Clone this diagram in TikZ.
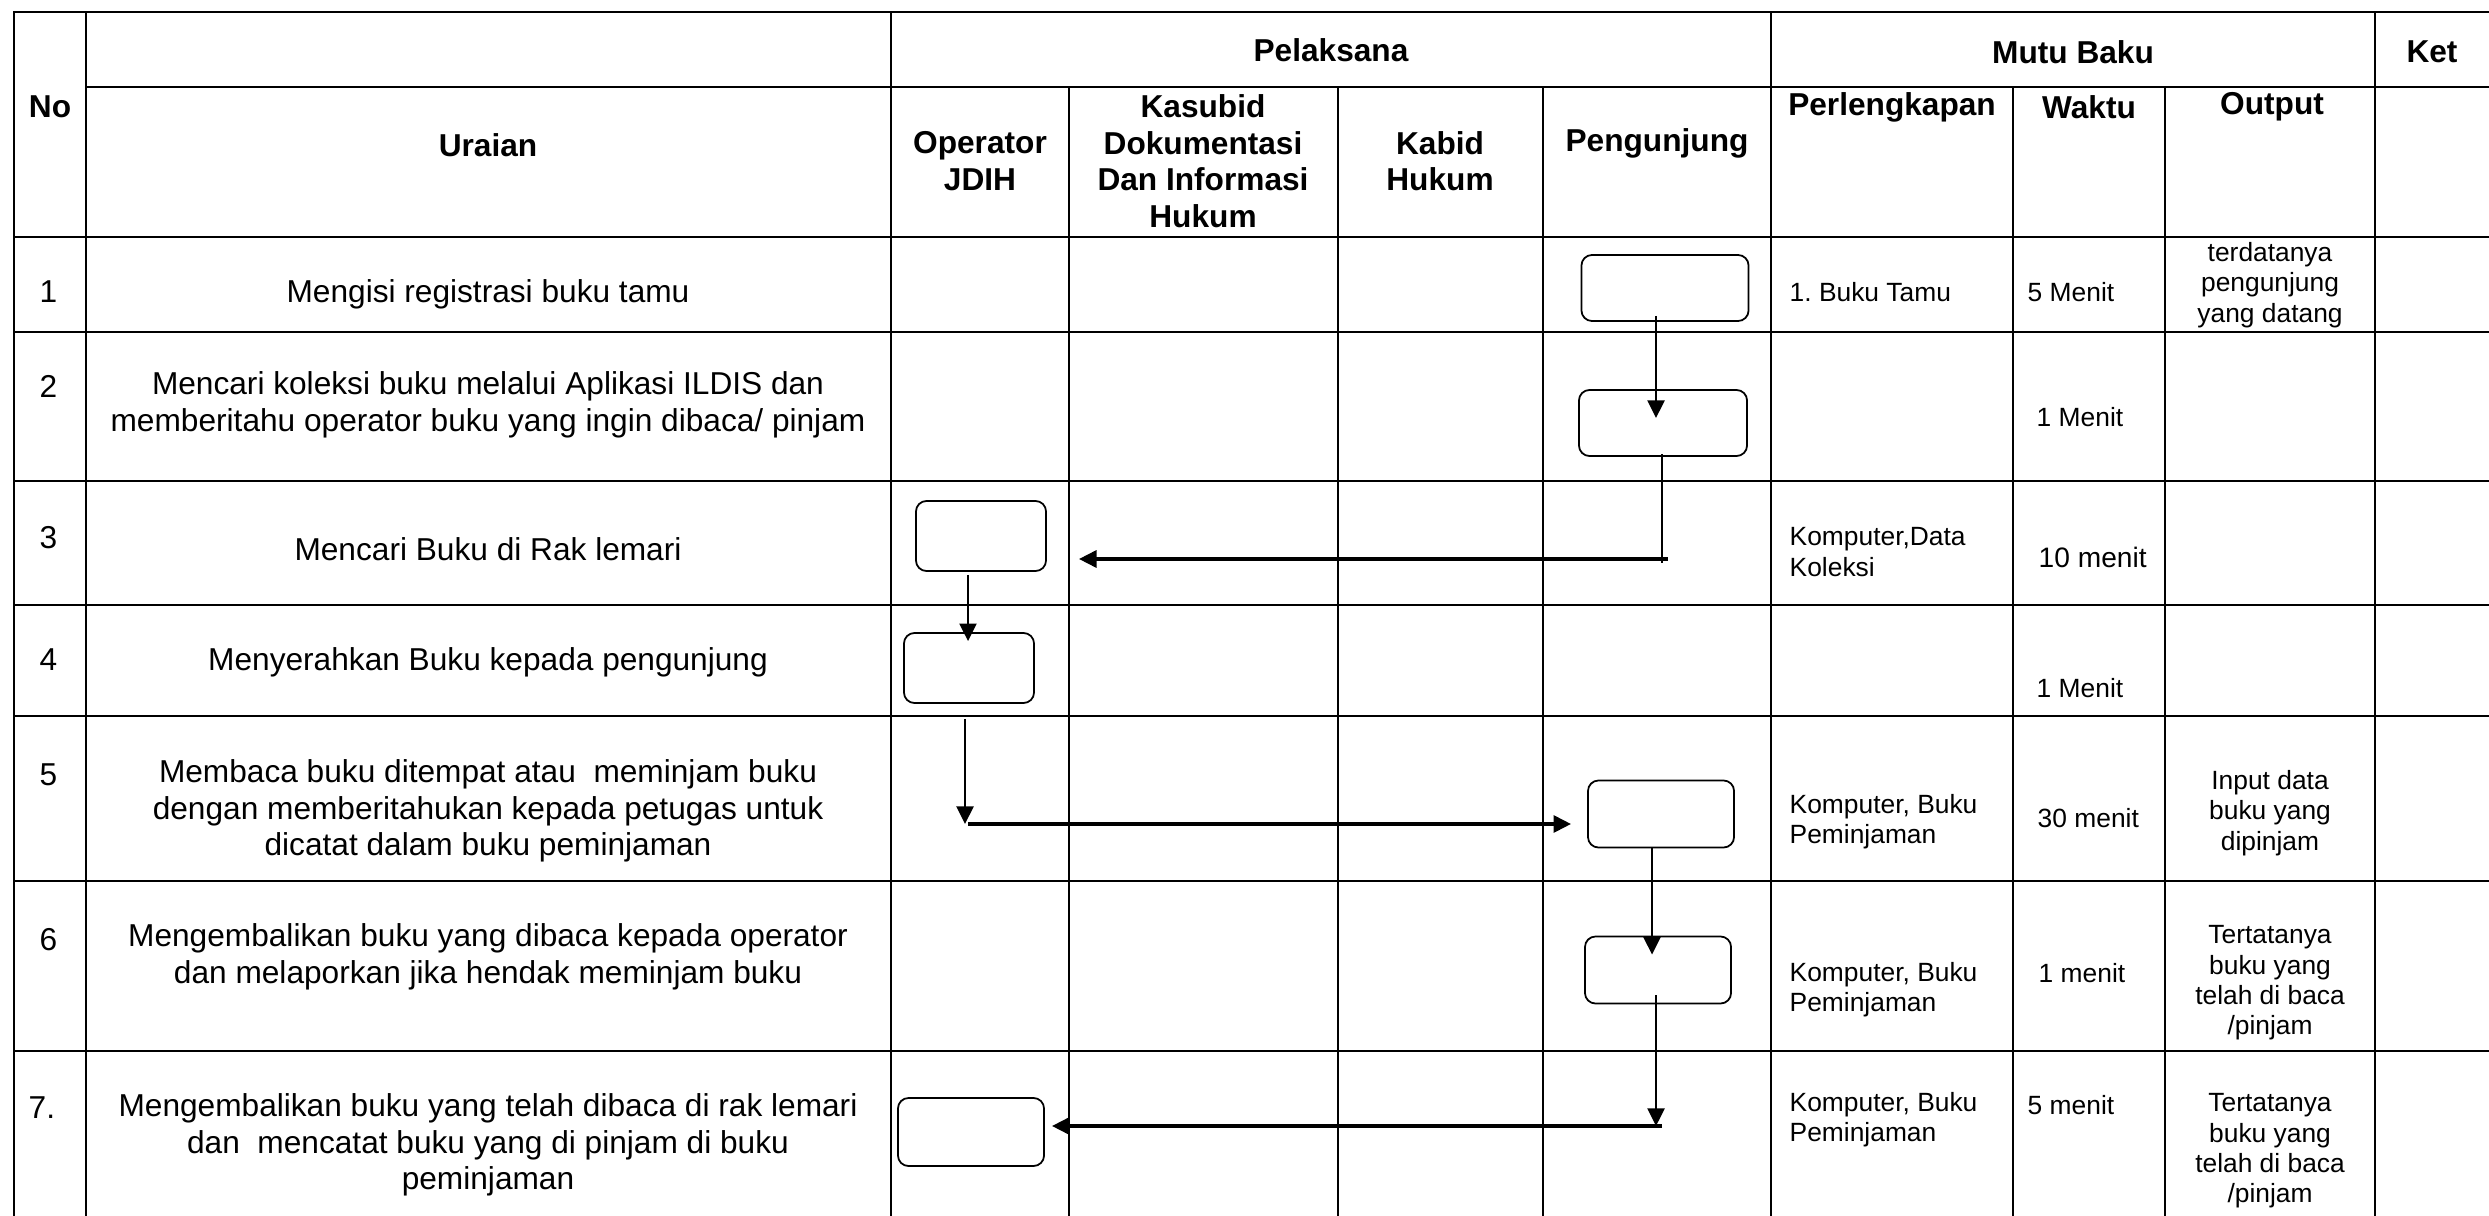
\documentclass[tikz,border=0pt]{standalone}
\usepackage{fontspec}
\setmainfont{Liberation Sans}
\usepackage{tikz}
\usetikzlibrary{arrows.meta,calc}
\frenchspacing

\begin{document}
\begin{tikzpicture}[x=0.01cm,
            y=-0.01cm,
            >={Triangle[length=5pt,width=4.8pt]},
            grid/.style={line width=0.6pt,line cap=rect},
            txt/.style={inner sep=0pt,align=center,font=\fontsize{9}{10.4}\selectfont},
            head/.style={txt,font=\fontsize{9}{10.4}\selectfont\bfseries},
            small/.style={inner sep=0pt,align=left,anchor=west,font=\fontsize{7.5}{8.6}\selectfont},
            smallc/.style={small,align=center,anchor=center},
            act/.style={draw,rounded corners=3pt,line width=0.5pt,minimum width=1.46cm,minimum height=0.67cm},
            flow/.style={->,line width=0.75pt},
            link/.style={line width=0.75pt},
            jump/.style={->,line width=1pt}]

        \useasboundingbox (0,0) rectangle (2489,1216);

        % table
        \foreach \y in {12,237,332,481,605,716,881,1051}
            \draw[grid] (14,\y) -- (2489,\y);
        \draw[grid] (86,87) -- (2489,87);
        \foreach \x in {14,86,891,1771,2375}
            \draw[grid] (\x,12) -- (\x,1216);
        \foreach \x in {1069,1338,1543,2013,2165}
            \draw[grid] (\x,87) -- (\x,1216);

        % header
        \node[head] (no)         at (50,107)   {No};
        \node[head] (uraian)     at (488,145)  {Uraian};
        \node[head] (pelaksana)  at (1331,50)  {Pelaksana};
        \node[head] (mutu)       at (2073,52)  {Mutu Baku};
        \node[head] (ket)        at (2432,52)  {Ket};
        \node[head] (operator)   at (980,161)  {Operator\\JDIH};
        \node[head] (kasubid)    at (1203,161) {Kasubid\\Dokumentasi\\Dan Informasi\\Hukum};
        \node[head] (kabid)      at (1440,161) {Kabid\\Hukum};
        \node[head] (pengunjung) at (1657,143) {Pengunjung};
        \node[head] (perl)       at (1892,107) {Perlengkapan};
        \node[head] (waktu)      at (2089,107) {Waktu};
        \node[head] (output)     at (2272,107) {Output};

        % nomor
        \node[txt,anchor=west] (n1) at (39,292)  {1};
        \node[txt,anchor=west] (n2) at (39,386)  {2};
        \node[txt,anchor=west] (n3) at (39,538)  {3};
        \node[txt,anchor=west] (n4) at (39,660)  {4};
        \node[txt,anchor=west] (n5) at (39,775)  {5};
        \node[txt,anchor=west] (n6) at (39,940)  {6};
        \node[txt,anchor=west] (n7) at (28,1108) {7.};

        % uraian
        \node[txt] (u1) at (488,294)  {Mengisi registrasi buku tamu};
        \node[txt] (u2) at (488,405)  {Mencari koleksi buku melalui Aplikasi ILDIS dan\\memberitahu operator buku yang ingin dibaca/ pinjam};
        \node[txt] (u3) at (488,549)  {Mencari Buku di Rak lemari};
        \node[txt] (u4) at (488,662)  {Menyerahkan Buku kepada pengunjung};
        \node[txt] (u5) at (488,811)  {Membaca buku ditempat atau~ meminjam buku\\dengan memberitahukan kepada petugas untuk\\dicatat dalam buku peminjaman};
        \node[txt] (u6) at (488,957)  {Mengembalikan buku yang dibaca kepada operator\\dan melaporkan jika hendak meminjam buku};
        \node[txt] (u7) at (488,1145) {Mengembalikan buku yang telah dibaca di rak lemari\\dan~ mencatat buku yang di pinjam di buku\\peminjaman};

        % perlengkapan
        \node[small] (p1) at (1789,292)  {1. Buku Tamu};
        \node[small] (p3) at (1789,552)  {Komputer,Data\\Koleksi};
        \node[small] (p5) at (1789,822)  {Komputer, Buku\\Peminjaman};
        \node[small] (p6) at (1789,990)  {Komputer, Buku\\Peminjaman};
        \node[small] (p7) at (1789,1120) {Komputer, Buku\\Peminjaman};

        % waktu
        \node[small] (w1) at (2027,292)  {5 Menit};
        \node[small] (w2) at (2036,417)  {1 Menit};
        \node[small,font=\fontsize{8}{9}\selectfont] (w3) at (2038,557) {10 menit};
        \node[small] (w4) at (2036,688)  {1 Menit};
        \node[small] (w5) at (2037,818)  {30 menit};
        \node[small] (w6) at (2038,973)  {1 menit};
        \node[small] (w7) at (2027,1105) {5 menit};

        % output
        \node[smallc] (o1) at (2270,285)  {terdatanya\\pengunjung\\yang datang};
        \node[smallc] (o5) at (2270,813)  {Input data\\buku yang\\dipinjam};
        \node[smallc] (o6) at (2270,983)  {Tertatanya\\buku yang\\telah di baca\\/pinjam};
        \node[smallc] (o7) at (2270,1151) {Tertatanya\\buku yang\\telah di baca\\/pinjam};

        % alur
        \node[act,minimum width=1.67cm,minimum height=0.66cm] (b1) at (1665,288) {};
        \node[act,minimum width=1.68cm,minimum height=0.66cm] (b2) at (1663,423) {};
        \node[act,minimum width=1.30cm,minimum height=0.70cm] (b3) at (981,536)  {};
        \node[act,minimum width=1.30cm,minimum height=0.70cm] (b4) at (969,668)  {};
        \node[act]                                            (b5) at (1661,814) {};
        \node[act]                                            (b6) at (1658,970) {};
        \node[act,minimum height=0.68cm]                      (b7) at (971,1132) {};

        \coordinate (k2) at (1662,559);
        \coordinate (k4) at (965,824);
        \coordinate (k6) at (1656,1126);

        \draw[flow] ($(b1.south)+(-9,-6)$) -- ($(b2.center)+(-7,-5)$);
        \draw[link] ($(b2.south)+(-1,-3)$) -- ($(k2)+(0,4)$);
        \draw[jump] ($(k2)+(6,0)$) -- ($(k2 -| b3.east)+(32,0)$);
        \draw[flow] ($(b3.south)+(-13,3)$) -- ($(b4.north)+(-1,9)$);
        \draw[flow] ($(b4.south)+(-4,15)$) -- (k4);
        \draw[jump] ($(k4)+(3,0)$) -- ($(k4 -| b5.west)+(-16,0)$);
        \draw[flow] ($(b5.south)+(-9,0)$) -- ($(b6.north)+(-6,19)$);
        \draw[flow] ($(b6.south)+(-2,-9)$) -- (k6);
        \draw[jump] ($(k6)+(6,0)$) -- ($(k6 -| b7.east)+(7,0)$);

    \end{tikzpicture}
\end{document}
